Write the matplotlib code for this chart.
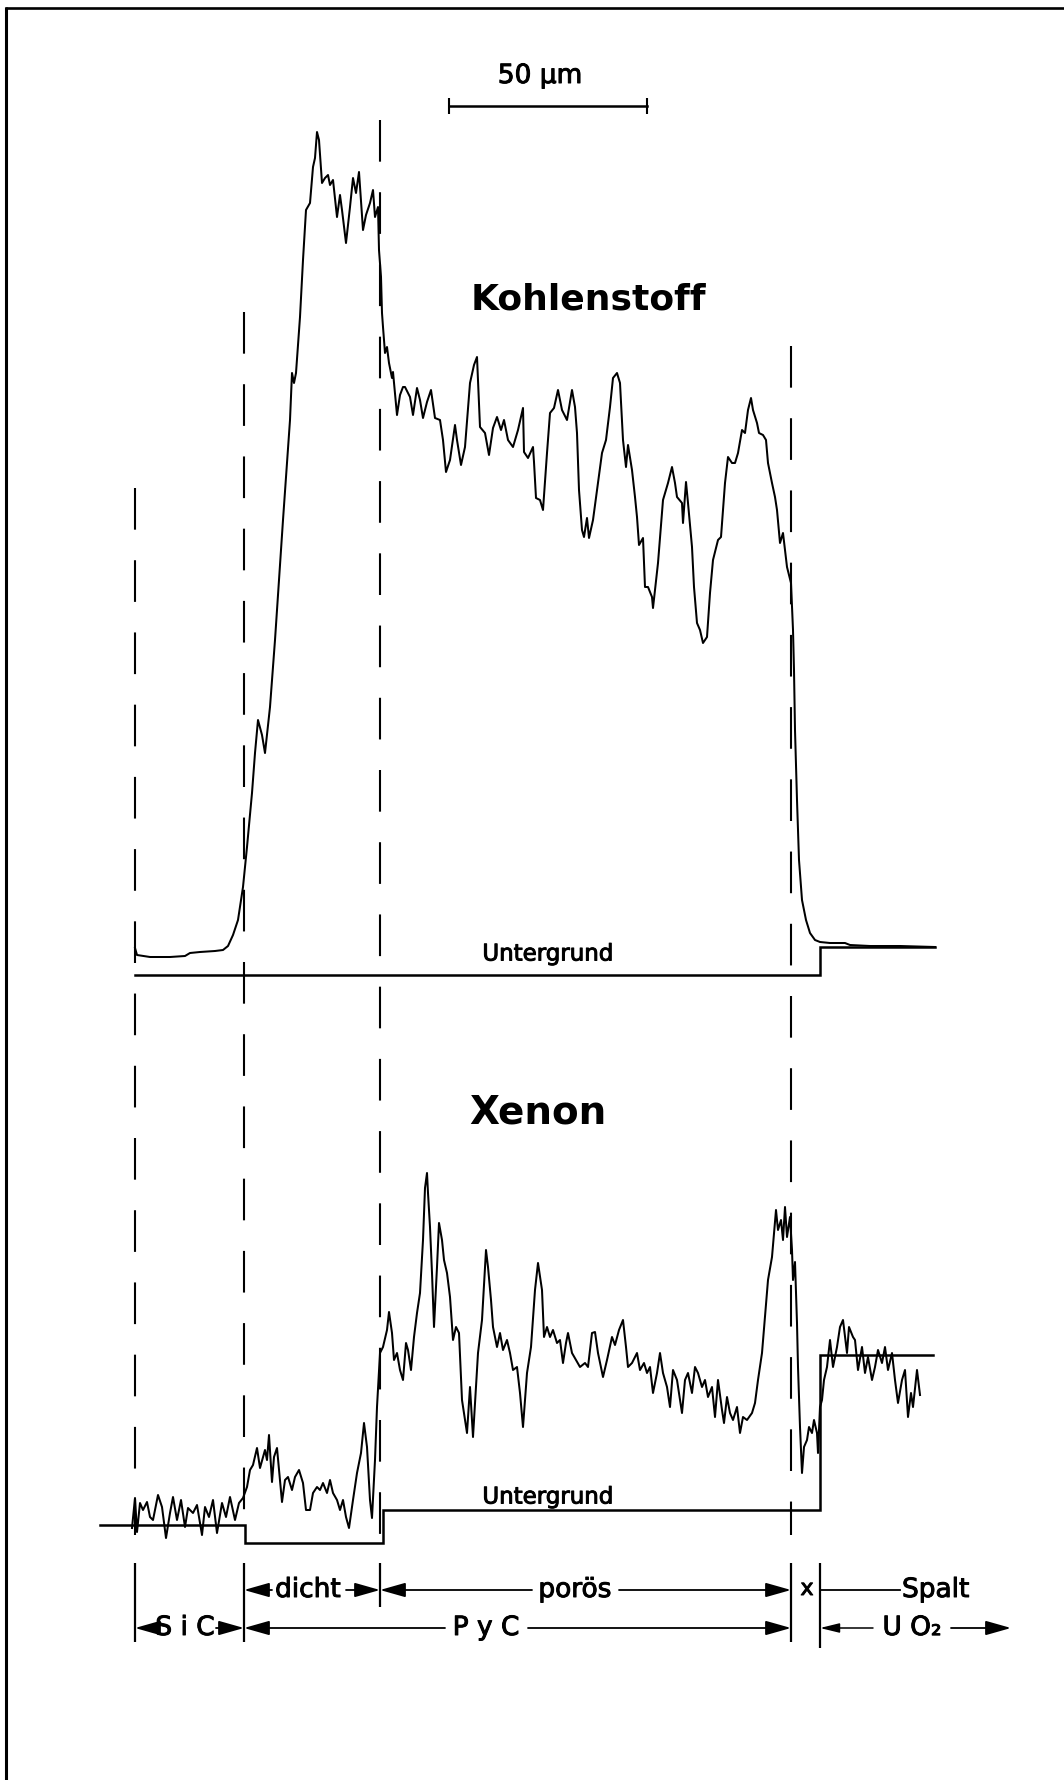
import matplotlib
matplotlib.use("Agg")
import matplotlib.pyplot as plt
import matplotlib.patheffects as pe

plt.rcParams['lines.scale_dashes'] = False
plt.rcParams['font.family'] = ['DejaVu Sans']

# ---------------- data ----------------
# scan position in recorder steps (0 = SiC/PyC-dicht outer boundary), 198 steps = 50 µm
UM_PER_STEP = 50 / 198
SCALE_UM = 50
SCALE_START = 314          # scale bar start (steps)

# Kohlenstoff line scan (relative counts)
c_pos = [0, 2, 15, 35, 50, 55, 65, 80, 88, 93, 98, 103, 108, 112, 117, 120, 123, 127, 130, 135,
         140, 148, 155, 157, 159, 161, 165, 168, 171, 175, 178, 180, 182, 184, 187, 190, 193, 195,
         198, 202, 205, 207, 211, 215, 218, 221, 224, 228, 231, 235, 238, 240, 243, 244, 246, 247,
         248, 250, 252, 254, 257, 258, 260, 262, 265, 268, 270, 273, 275, 278, 282, 285, 288, 292,
         296, 300, 305, 308, 311, 315, 320, 322, 326, 330, 335, 339, 342, 345, 350, 354, 358, 362,
         366, 369, 373, 378, 383, 388, 389, 393, 398, 399, 401, 405, 408, 412, 415, 419, 423, 427,
         432, 437, 440, 442, 444, 447, 449, 452, 454, 458, 463, 467, 471, 475, 478, 482, 485, 488,
         491, 493, 497, 500, 502, 504, 508, 510, 513, 517, 518, 523, 528, 533, 537, 540, 542, 547,
         548, 551, 553, 557, 559, 562, 565, 568, 572, 575, 578, 583, 586, 590, 593, 597, 600, 603,
         607, 610, 613, 616, 618, 622, 624, 628, 631, 633, 637, 640, 642, 645, 648, 650, 652, 656,
         658, 659, 660, 662, 664, 667, 671, 675, 680, 685, 695, 710, 715, 735, 765, 800]
c_val = [52, 45, 43, 43, 44, 47, 48, 49, 50, 54, 65, 80, 113, 153, 207, 247, 280, 265, 247, 293,
         360, 480, 580, 627, 617, 627, 683, 740, 790, 797, 833, 842, 868, 860, 817, 822, 825, 815,
         820, 783, 805, 790, 757, 793, 822, 807, 828, 770, 785, 797, 810, 783, 793, 750, 723, 687,
         673, 647, 653, 637, 622, 628, 607, 585, 605, 613, 613, 607, 603, 585, 612, 600, 582, 598,
         610, 582, 580, 560, 528, 540, 575, 560, 535, 553, 617, 635, 643, 573, 567, 545, 572, 583,
         570, 580, 560, 553, 570, 592, 548, 542, 553, 538, 502, 500, 490, 547, 587, 592, 610, 590,
         580, 610, 593, 567, 510, 470, 463, 482, 462, 480, 517, 547, 560, 593, 622, 627, 617, 560,
         533, 555, 530, 503, 483, 455, 462, 413, 413, 403, 392, 437, 500, 517, 533, 517, 503, 497,
         477, 518, 497, 453, 413, 377, 370, 357, 363, 407, 440, 460, 463, 517, 543, 537, 537, 547,
         570, 567, 590, 602, 590, 577, 567, 565, 560, 537, 517, 503, 490, 457, 467, 450, 433, 417,
         370, 330, 270, 200, 140, 100, 80, 67, 60, 58, 57, 57, 55, 54, 54, 53]
c_bg_pos = [0, 685, 685, 800]
c_bg_val = [25, 25, 53, 53]

# Xenon line scan (relative counts)
xe_pos = [-3, 0, 2, 5, 8, 12, 15, 18, 23, 27, 31, 35, 38, 42, 46, 50, 53, 58, 62, 67, 70, 74, 78,
          82, 87, 91, 95, 100, 104, 108, 112, 115, 118, 122, 125, 130, 132, 134, 137, 139, 142,
          144, 147, 150, 153, 157, 160, 164, 168, 171, 175, 178, 182, 185, 188, 192, 195, 198,
          202, 205, 208, 211, 214, 218, 222, 226, 229, 232, 235, 237, 240, 242, 245, 248, 252,
          254, 257, 259, 262, 265, 268, 271, 273, 276, 279, 282, 285, 288, 290, 292, 293, 295,
          297, 299, 302, 304, 307, 309, 312, 315, 318, 321, 324, 327, 332, 335, 338, 340, 343,
          347, 351, 353, 356, 358, 362, 365, 368, 372, 375, 378, 382, 385, 388, 392, 396, 400,
          403, 407, 409, 412, 415, 418, 422, 425, 428, 431, 433, 437, 441, 445, 450, 453, 457,
          460, 463, 468, 472, 477, 480, 484, 488, 491, 493, 497, 502, 505, 509, 512, 515, 518,
          522, 525, 528, 532, 535, 538, 542, 547, 550, 553, 557, 560, 563, 567, 570, 573, 577,
          580, 583, 587, 589, 592, 595, 598, 602, 605, 608, 612, 617, 620, 623, 627, 630, 633,
          637, 639, 641, 643, 646, 648, 650, 652, 655, 657, 658, 660, 662, 663, 665, 667, 669,
          672, 674, 677, 679, 682, 683, 685, 687, 689, 692, 695, 698, 702, 705, 708, 712, 714,
          718, 720, 723, 727, 730, 733, 737, 740, 743, 747, 750, 753, 757, 760, 763, 767, 770,
          773, 776, 778, 782, 785]
xe_val = [72, 102, 68, 97, 90, 98, 83, 80, 105, 93, 62, 87, 103, 80, 100, 73, 92, 87, 95, 65, 93,
          83, 100, 67, 97, 83, 103, 80, 97, 102, 113, 130, 135, 152, 132, 150, 140, 165, 118, 143,
          152, 130, 98, 120, 123, 110, 123, 130, 117, 90, 90, 107, 113, 110, 117, 107, 120, 107,
          100, 90, 100, 83, 72, 100, 127, 147, 177, 153, 100, 82, 140, 193, 247, 253, 270, 288,
          267, 240, 247, 230, 220, 257, 250, 230, 263, 287, 307, 360, 412, 427, 407, 373, 327,
          273, 333, 377, 360, 340, 327, 303, 260, 273, 267, 200, 167, 213, 163, 197, 247, 280,
          350, 333, 300, 273, 253, 267, 250, 260, 247, 230, 233, 207, 173, 227, 253, 310, 337,
          310, 263, 273, 263, 270, 257, 260, 237, 257, 267, 247, 240, 233, 237, 233, 267, 268,
          247, 223, 240, 263, 255, 270, 280, 253, 233, 237, 247, 230, 237, 227, 233, 207, 227,
          247, 227, 213, 193, 230, 220, 187, 220, 227, 207, 233, 227, 213, 220, 203, 213, 183,
          220, 190, 177, 203, 187, 180, 193, 167, 183, 180, 187, 197, 220, 247, 283, 320, 343,
          367, 390, 370, 380, 360, 393, 363, 383, 350, 320, 338, 277, 233, 173, 127, 153, 160,
          173, 167, 180, 167, 147, 193, 200, 220, 233, 260, 233, 253, 273, 280, 247, 273, 263,
          260, 230, 253, 227, 243, 220, 233, 250, 237, 253, 230, 247, 220, 197, 220, 230, 183,
          207, 193, 230, 205]
xe_bg_pos = [-35, 110, 110, 248, 248, 685, 685, 798]
xe_bg_val = [75, 75, 57, 57, 90, 90, 245, 245]

# layer boundaries (steps) and dashed-line top ends (relative to Kohlenstoff scale)
boundaries = [0, 109, 245, 656, 685]
dash_top = [512, 688, 880, 654]

row1_labels = ['dicht', 'porös', 'x', 'Spalt']
row2_labels = ['S i C', 'P y C', 'U O₂']

# ---------------- figure ----------------
W, H = 1064, 1780
fig = plt.figure(figsize=(W / 100, H / 100), dpi=100)
fig.patch.set_facecolor('white')

XL = (-135, 929)
ax_c = fig.add_axes([0, 0, 1, 1])
ax_c.set_xlim(*XL); ax_c.set_ylim(-780, 1000)
ax_x = fig.add_axes([0, 0, 1, 1])
ax_x.set_xlim(*XL); ax_x.set_ylim(-180, 1600)
ax_a = fig.add_axes([0, 0, 1, 1])
ax_a.set_xlim(0, W); ax_a.set_ylim(H, 0)
for a in (ax_c, ax_x, ax_a):
    a.axis('off')
    a.patch.set_visible(False)

K = 'black'
heavy = [pe.withStroke(linewidth=0.7, foreground=K)]

# frame (top and left edge of the original sheet)
ax_a.plot([5, W], [8, 8], color=K, lw=1.9, solid_capstyle='butt')
ax_a.plot([6, 6], [7, H], color=K, lw=2.2, solid_capstyle='butt')

# curves
ax_c.plot(c_pos, c_val, color=K, lw=1.45, solid_joinstyle='round')
ax_c.plot(c_bg_pos, c_bg_val, color=K, lw=1.8, solid_joinstyle='miter')
ax_x.plot(xe_pos, xe_val, color=K, lw=1.45, solid_joinstyle='round')
ax_x.plot(xe_bg_pos, xe_bg_val, color=K, lw=1.8, solid_joinstyle='miter')

# dashed boundary lines through both scans (drawn top -> bottom)
for b, top in zip(boundaries[:4], dash_top):
    ax_c.plot([b, b], [top, -535], color=K, lw=1.5, linestyle=(0, (30, 22)),
              dash_capstyle='butt')

# scale bar 50 µm
sb_len = SCALE_UM / UM_PER_STEP
ax_c.plot([SCALE_START, SCALE_START + sb_len], [894, 894], color=K, lw=1.8)
ax_c.vlines([SCALE_START, SCALE_START + sb_len], 886, 902, colors=K, lw=1.5)
ax_c.text(SCALE_START + sb_len / 2 - 8, 924, '50 µm', ha='center', va='center', fontsize=19,
          path_effects=heavy)

# titles
ax_c.text(453, 701, 'Kohlenstoff', ha='center', va='center', fontsize=26, fontweight='bold')
ax_x.text(403, 487, 'Xenon', ha='center', va='center', fontsize=28, fontweight='bold')
ax_c.text(413, 46, 'Untergrund', ha='center', va='center', fontsize=16.5, path_effects=heavy)
ax_x.text(413, 103, 'Untergrund', ha='center', va='center', fontsize=16.5, path_effects=heavy)

# ----- layer annotation rows -----
R1, R2 = 10, -28
vl = {0: (37, -42), 109: (37, -42), 245: (37, -7), 656: (37, -42), 685: (37, -48)}
for b, (y0, y1) in vl.items():
    ax_x.vlines(b, y1, y0, colors=K, lw=1.6)

HEAD = '-|>,head_length=1.2,head_width=0.34'
THIN = '-|>,head_length=0.9,head_width=0.22'


def arrow(x_from, x_to, y, style=HEAD, lw=1.3):
    ax_x.annotate('', xy=(x_to, y), xytext=(x_from, y),
                  arrowprops=dict(arrowstyle=style, color=K, lw=lw, mutation_scale=13,
                                  shrinkA=0, shrinkB=0))


FS = 19
# row 1
ax_x.text(173, R1, row1_labels[0], ha='center', va='center', fontsize=FS, path_effects=heavy)
arrow(137, 109, R1)
arrow(211, 245, R1)
ax_x.text(440, R1, row1_labels[1], ha='center', va='center', fontsize=FS, path_effects=heavy)
arrow(397, 245, R1)
arrow(484, 656, R1)
ax_x.text(672, R1 + 1, row1_labels[2], ha='center', va='center', fontsize=16, path_effects=heavy)
ax_x.plot([685, 765], [R1, R1], color=K, lw=1.3)
ax_x.text(767, R1, row1_labels[3], ha='left', va='center', fontsize=FS, path_effects=heavy)

# row 2
ax_x.text(50, R2, row2_labels[0], ha='center', va='center', fontsize=FS, path_effects=heavy)
arrow(19, 0, R2)
arrow(81, 109, R2)
ax_x.text(351, R2, row2_labels[1], ha='center', va='center', fontsize=FS, path_effects=heavy)
arrow(310, 109, R2)
arrow(393, 656, R2)
ax_x.text(777, R2, row2_labels[2], ha='center', va='center', fontsize=FS, path_effects=heavy)
arrow(738, 685, R2, style=THIN, lw=1.1)
arrow(816, 876, R2)

fig.savefig('out.png', dpi=100, facecolor='white')
